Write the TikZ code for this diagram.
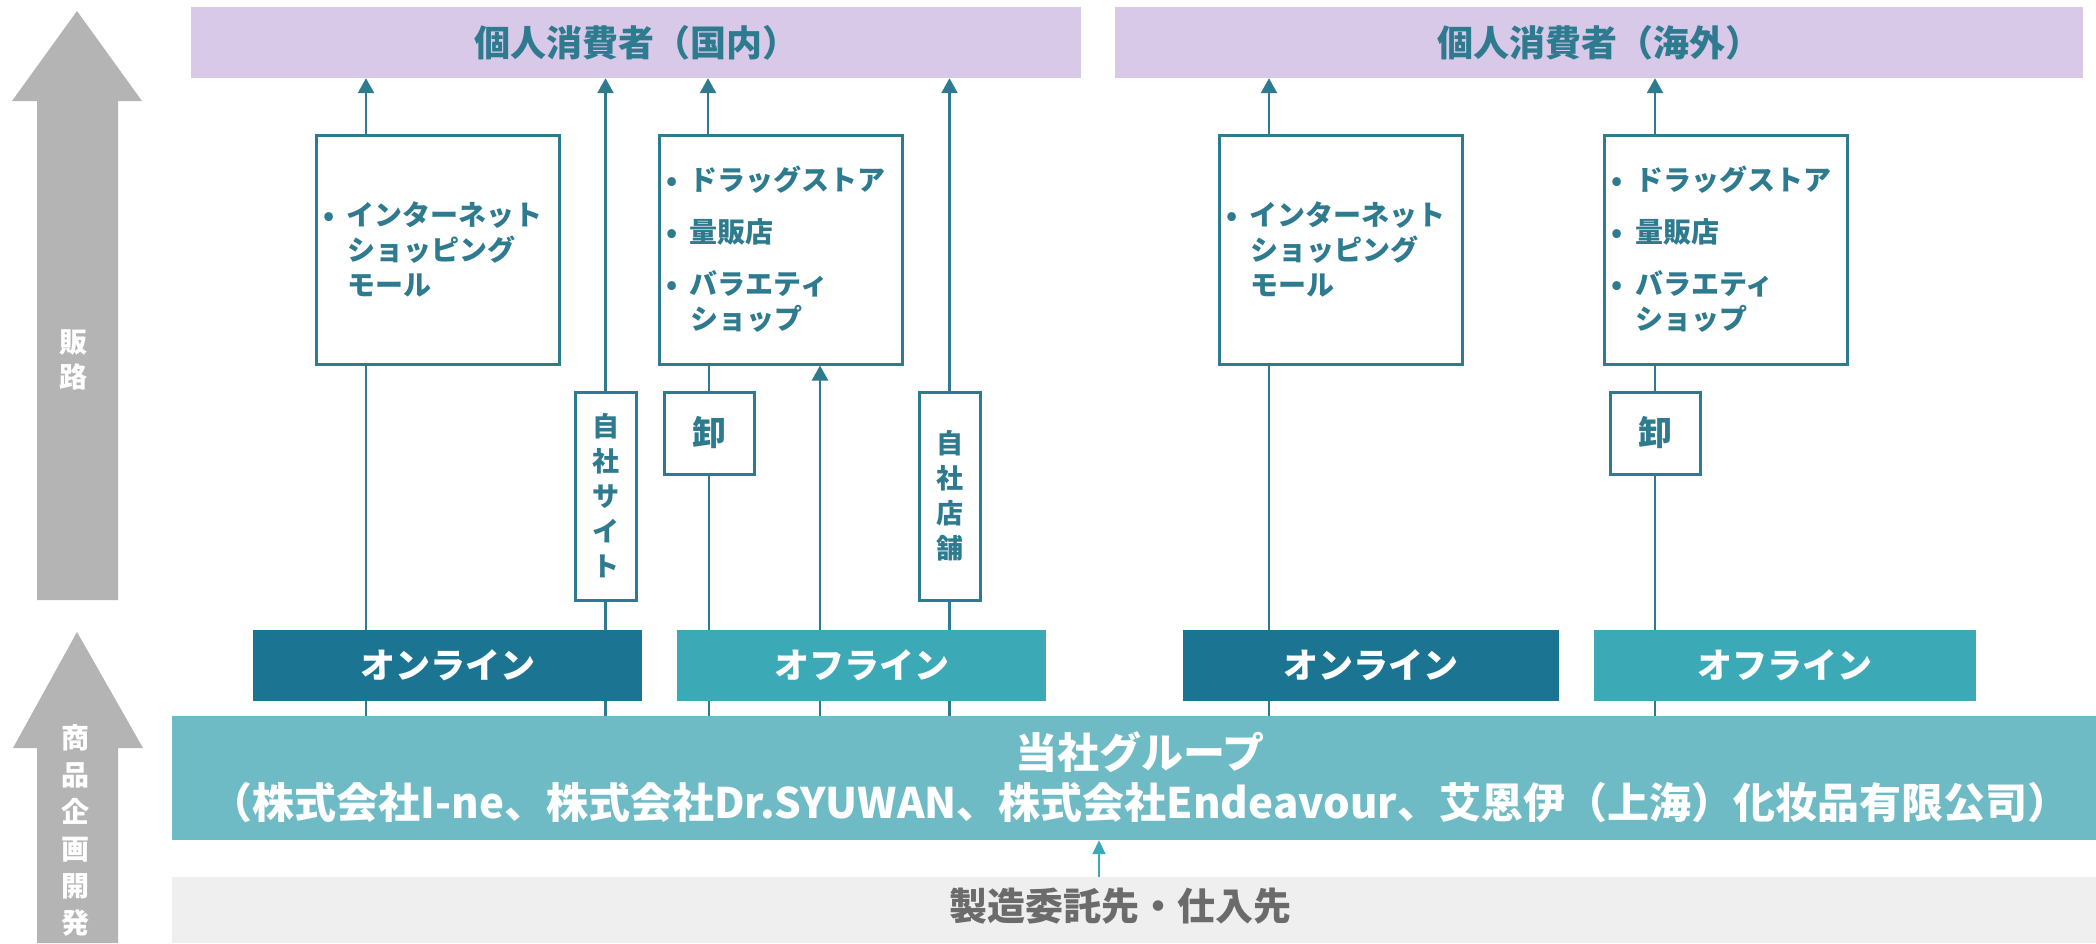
\documentclass[tikz,border=0pt]{standalone}
\usepackage{fontspec}
\setmainfont{Noto Sans CJK JP}
\usetikzlibrary{arrows.meta}
\definecolor{cLine}{HTML}{2E7B8F}
\definecolor{cText}{HTML}{2E7B8F}
\definecolor{cPurple}{HTML}{D7C9E7}
\definecolor{cOn}{HTML}{1B7491}
\definecolor{cOff}{HTML}{3CA9B6}
\definecolor{cBar}{HTML}{6FBBC5}
\definecolor{cMfg}{HTML}{EFEFEF}
\definecolor{cMfgText}{HTML}{6B6B6B}
\definecolor{cGray}{HTML}{B4B4B4}
\pgfdeclarelayer{paper}
\pgfdeclarelayer{lines}
\pgfsetlayers{paper,lines,main}
\newcommand{\bul}{\makebox[16pt][c]{•}\hspace{10pt}}
\newcommand{\ind}{\hspace*{26pt}}
\begin{document}
\begin{tikzpicture}[x=1pt,y=-1pt,
  frame/.style={draw=cLine,line width=3pt,fill=white,inner sep=0pt,text=cText},
  listbox/.style={frame,inner xsep=5pt,text width=233pt,minimum height=229pt,align=left,
    font=\fontsize{28}{35}\selectfont\bfseries},
  vbox/.style={frame,minimum width=61pt,minimum height=208pt,align=center,
    font=\fontsize{27}{35}\selectfont\bfseries},
  obox/.style={frame,minimum width=90pt,minimum height=82pt,font=\fontsize{34}{40}\selectfont\bfseries},
  title/.style={fill=cPurple,inner sep=0pt,minimum height=71pt,text=cText,
    font=\fontsize{36}{40}\selectfont\bfseries},
  chan/.style={inner sep=0pt,minimum height=71pt,text=white,font=\fontsize{35}{40}\selectfont\bfseries},
  conn/.style={draw=cLine,line width=2.5pt},
  arr/.style={conn,-{Triangle[width=16pt,length=15pt]}},
  vlabel/.style={text=white,align=center,inner sep=0pt}
]
\useasboundingbox (0,0) rectangle (2096,943);
\begin{pgfonlayer}{paper}
\fill[white] (0,0) rectangle (2096,943);
\end{pgfonlayer}

% side arrows
\fill[cGray] (37,600) -- (37,101) -- (12,101) -- (77,11) -- (142,101) -- (118,101) -- (118,600) -- cycle;
\fill[cGray] (37,943) -- (37,748) -- (13,748) -- (77,632) -- (143,748) -- (118,748) -- (118,943) -- cycle;
\node[vlabel,font=\fontsize{28}{35}\selectfont\bfseries] (hanro) at (73,360) {販\\路};
\node[vlabel,font=\fontsize{28}{37}\selectfont\bfseries] (shohin) at (75,830) {商\\品\\企\\画\\開\\発};

% consumers
\node[title,minimum width=890pt] (dom) at (636,42.5) {個人消費者（国内）};
\node[title,minimum width=968pt] (ovs) at (1599,42.5) {個人消費者（海外）};

% channel boxes
\node[listbox] (A) at (437.5,249.5) {\bul インターネット\\\ind ショッピング\\\ind モール};
\node[listbox] (B) at (780.5,249.5) {\bul ドラッグストア\\[17pt]\bul 量販店\\[17pt]\bul バラエティ\\\ind ショップ};
\node[listbox] (C) at (1340.5,249.5) {\bul インターネット\\\ind ショッピング\\\ind モール};
\node[listbox] (D) at (1726,249.5) {\bul ドラッグストア\\[17pt]\bul 量販店\\[17pt]\bul バラエティ\\\ind ショップ};

\node[vbox] (site) at (605.5,496) {自\\社\\サ\\イ\\ト};
\node[vbox] (store) at (949.5,496) {自\\社\\店\\舗};
\node[obox] (oro1) at (709,433) {卸};
\node[obox] (oro2) at (1655,433) {卸};

% online / offline
\node[chan,fill=cOn,minimum width=389pt] (on1) at (447.5,665.5) {オンライン};
\node[chan,fill=cOff,minimum width=369pt] (off1) at (861.5,665.5) {オフライン};
\node[chan,fill=cOn,minimum width=376pt] (on2) at (1371,665.5) {オンライン};
\node[chan,fill=cOff,minimum width=382pt] (off2) at (1785,665.5) {オフライン};

% company bar
\node[fill=cBar,inner sep=0pt,minimum width=1924pt,minimum height=124pt] (bar) at (1134,778) {};
\node[text=white,inner sep=0pt,font=\fontsize{42}{50}\selectfont\bfseries,align=center] (barlbl) at (1140,777)
  {当社グループ\\（株式会社I-ne、株式会社Dr.SYUWAN、株式会社Endeavour、艾恩伊（上海）化妆品有限公司）};

% manufacturing band
\node[fill=cMfg,inner sep=0pt,minimum width=1924pt,minimum height=66pt] (mfg) at (1134,910) {};
\node[text=cMfgText,inner sep=0pt,font=\fontsize{38}{40}\selectfont\bfseries] (mfglbl) at (1120,906) {製造委託先・仕入先};

% connectors
\coordinate (xa) at (366,0);
\coordinate (xb) at (708,0);
\coordinate (xo) at (820,0);
\coordinate (xc) at (1269,0);
\coordinate (xm) at (1099,0);
\begin{pgfonlayer}{lines}
\draw[arr] (xa |- A.north) -- (xa |- dom.south);
\draw[conn] (xa |- bar.north) -- (xa |- A.south);
\draw[arr] (site.north) -- (site.north |- dom.south);
\draw[conn] (site.south |- bar.north) -- (site.south);
\draw[arr] (xb |- B.north) -- (xb |- dom.south);
\draw[conn] (oro1.north) -- (oro1.north |- B.south);
\draw[conn] (oro1.south |- bar.north) -- (oro1.south);
\draw[arr] (xo |- bar.north) -- (xo |- B.south);
\draw[arr] (store.north) -- (store.north |- dom.south);
\draw[conn] (store.south |- bar.north) -- (store.south);
\draw[arr] (xc |- C.north) -- (xc |- ovs.south);
\draw[conn] (xc |- bar.north) -- (xc |- C.south);
\draw[arr] (oro2.north |- D.north) -- (oro2.north |- ovs.south);
\draw[conn] (oro2.north) -- (oro2.north |- D.south);
\draw[conn] (oro2.south |- bar.north) -- (oro2.south);
\draw[draw=cOff,line width=2pt,-{Triangle[width=13pt,length=14pt]}] (xm |- mfg.north) -- (xm |- bar.south);
\end{pgfonlayer}
\end{tikzpicture}
\end{document}
